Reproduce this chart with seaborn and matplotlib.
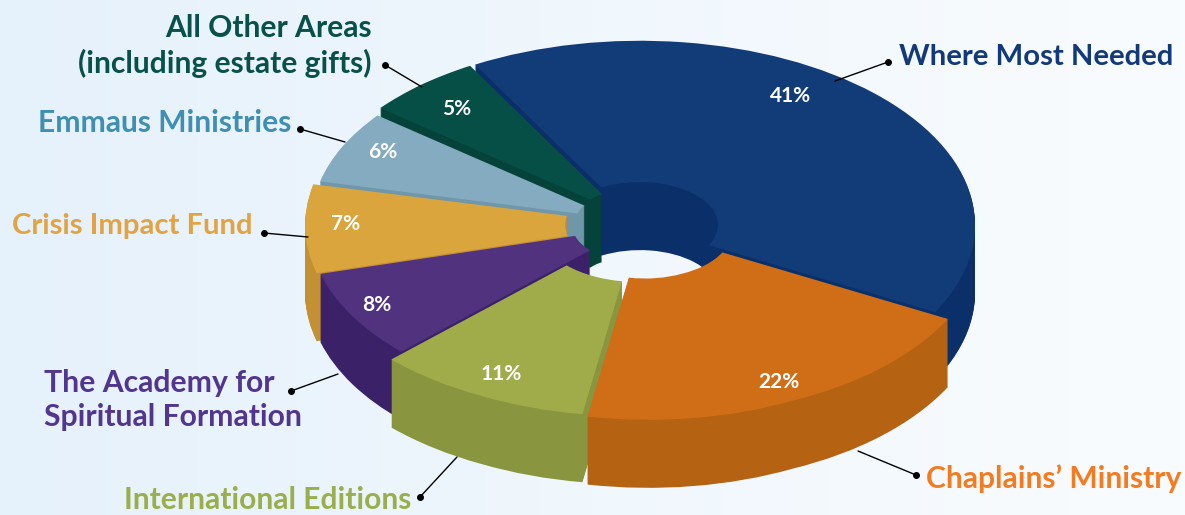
import numpy as np
import matplotlib
matplotlib.use("Agg")
import matplotlib.pyplot as plt
from matplotlib.transforms import Transform
import seaborn as sns

# =========================
# DATA
# =========================

categories = [
    "Where Most Needed",
    "Chaplains\u2019 Ministry",
    "International Editions",
    "The Academy for\nSpiritual Formation",
    "Crisis Impact Fund",
    "Emmaus Ministries",
    "All Other Areas\n(including estate gifts)",
]
shares = [41, 22, 11, 8, 7, 6, 5]

# =========================
# STYLE
# =========================

top_colors = ["#123c78", "#d06e18", "#a0ab4a", "#50327f", "#dba53e", "#84abbf", "#064f47"]
side_colors = ["#0b2f68", "#b56212", "#8a953f", "#3b2268", "#c39033", "#6f96a9", "#054239"]
label_colors = ["#12397a", "#f47b20", "#9aaf4c", "#52358f", "#e2a343", "#3f8fb3", "#08514a"]
label_sizes = [21.1, 21.6, 21.6, 21.7, 21.1, 21.6, 21.6]
explode_px = [0, 8, 4, 8, 0, 30, 28]
radii = [335, 346, 345, 324, 335, 300, 308]
holes = [78, 90, 100, 60, 75, 36, 40]
# back to front stacking of the slices
stack_order = [0, 6, 5, 4, 3, 2, 1]

sns.set_theme(style="white")
plt.rcParams["font.family"] = ["Lato", "DejaVu Sans"]
plt.rcParams["font.weight"] = "bold"

W, H = 1185, 515
SQUASH = 0.55
CX, CY = 640, 225   # top face centre in pixels
DEPTH = 68
START = 119.4
WARP = 11.5         # degrees, the camera perspective widens the front slices


class FrontWarp(Transform):
    """Perspective of the reference: turns points of the front arc towards the camera."""
    input_dims = 2
    output_dims = 2

    def __init__(self, origin):
        super().__init__()
        self.origin = np.asarray(origin, dtype=float)

    def transform_non_affine(self, values):
        uv = np.asarray(values) - self.origin
        r = np.hypot(uv[:, 0], uv[:, 1])
        th = np.degrees(np.arctan2(uv[:, 1], uv[:, 0]))
        th = (th + 241) % 360 - 241
        front = th < -29
        frac = np.clip((-29 - th[front]) / 212, 0, 1)
        th[front] += WARP * np.sin(frac ** 1.4 * np.pi)
        th = np.radians(th)
        return np.column_stack([r * np.cos(th), r * np.sin(th)]) + self.origin


def draw_pie(ax, center, colors, z_extra):
    wedges, _ = ax.pie(
        shares,
        explode=explode_px,
        colors=colors,
        startangle=START,
        counterclock=False,
        radius=300,
        center=center,
        wedgeprops=dict(width=100, linewidth=0),
        frame=True,
    )
    warp = FrontWarp(center)
    for w, z, r, h in zip(wedges, stack_order, radii, holes):
        w.set_radius(r)
        w.set_width(r - h)
        w.set_zorder(z + z_extra)
        w.set_transform(warp + ax.transData)


fig = plt.figure(figsize=(W / 100, H / 100), dpi=100)

# =========================
# BACKGROUND
# =========================

bg = fig.add_axes([0, 0, 1, 1], zorder=0)
grad = np.linspace(0, 1, 256)[None, :]
bg.imshow(grad, aspect="auto", cmap=matplotlib.colors.LinearSegmentedColormap.from_list(
    "bg", ["#e5f1fb", "#f0f7fd", "#f9fcfe"]))
bg.axis("off")

# =========================
# PIE
# =========================

ax = fig.add_axes([0, 0, 1, 1], zorder=1)
ax.patch.set_alpha(0)

cx, cy = CX, (H - CY) / SQUASH

# the side walls: the same pie repeated downwards
for dy in range(DEPTH, 0, -1):
    draw_pie(ax, (cx, cy - dy / SQUASH), side_colors, 1)

draw_pie(ax, (cx, cy), top_colors, 1.5)

ax.set_aspect("auto")
ax.set_xlim(0, W)
ax.set_ylim(0, H / SQUASH)
ax.axis("off")

# =========================
# LABELS (overlay in pixel coordinates)
# =========================

ov = fig.add_axes([0, 0, 1, 1], zorder=2)
ov.patch.set_alpha(0)
ov.set_xlim(0, W)
ov.set_ylim(H, 0)
ov.axis("off")

pct_pos = [(791, 96), (779, 382), (501, 374), (377, 305), (346, 224), (383, 152), (457, 109)]
for share, (x, y) in zip(shares, pct_pos):
    ov.text(x, y, f"{share}%", color="white", fontsize=15, ha="center", va="center")

label_pos = [
    (1173, 57, "right"),
    (1181, 479, "right"),
    (411, 500, "right"),
    (44, 400, "left"),
    (253, 226, "right"),
    (291, 123, "right"),
    (372, 46, "right"),
]
for name, color, size, (x, y, ha) in zip(categories, label_colors, label_sizes, label_pos):
    ov.text(x, y, name, color=color, fontsize=size, ha=ha, va="center", linespacing=1.25)

leaders = [
    ((888, 62), (835, 81)),
    ((916, 475), (858, 451)),
    ((420, 497), (457, 457)),
    ((291, 391), (338, 374)),
    ((264, 233), (308, 237)),
    ((300, 129), (345, 142)),
    ((385, 65), (422, 87)),
]
for (x0, y0), (x1, y1) in leaders:
    ov.plot([x0, x1], [y0, y1], color="black", lw=1)
    ov.plot([x0], [y0], "o", color="black", ms=4)

fig.savefig("out.png", dpi=100)
